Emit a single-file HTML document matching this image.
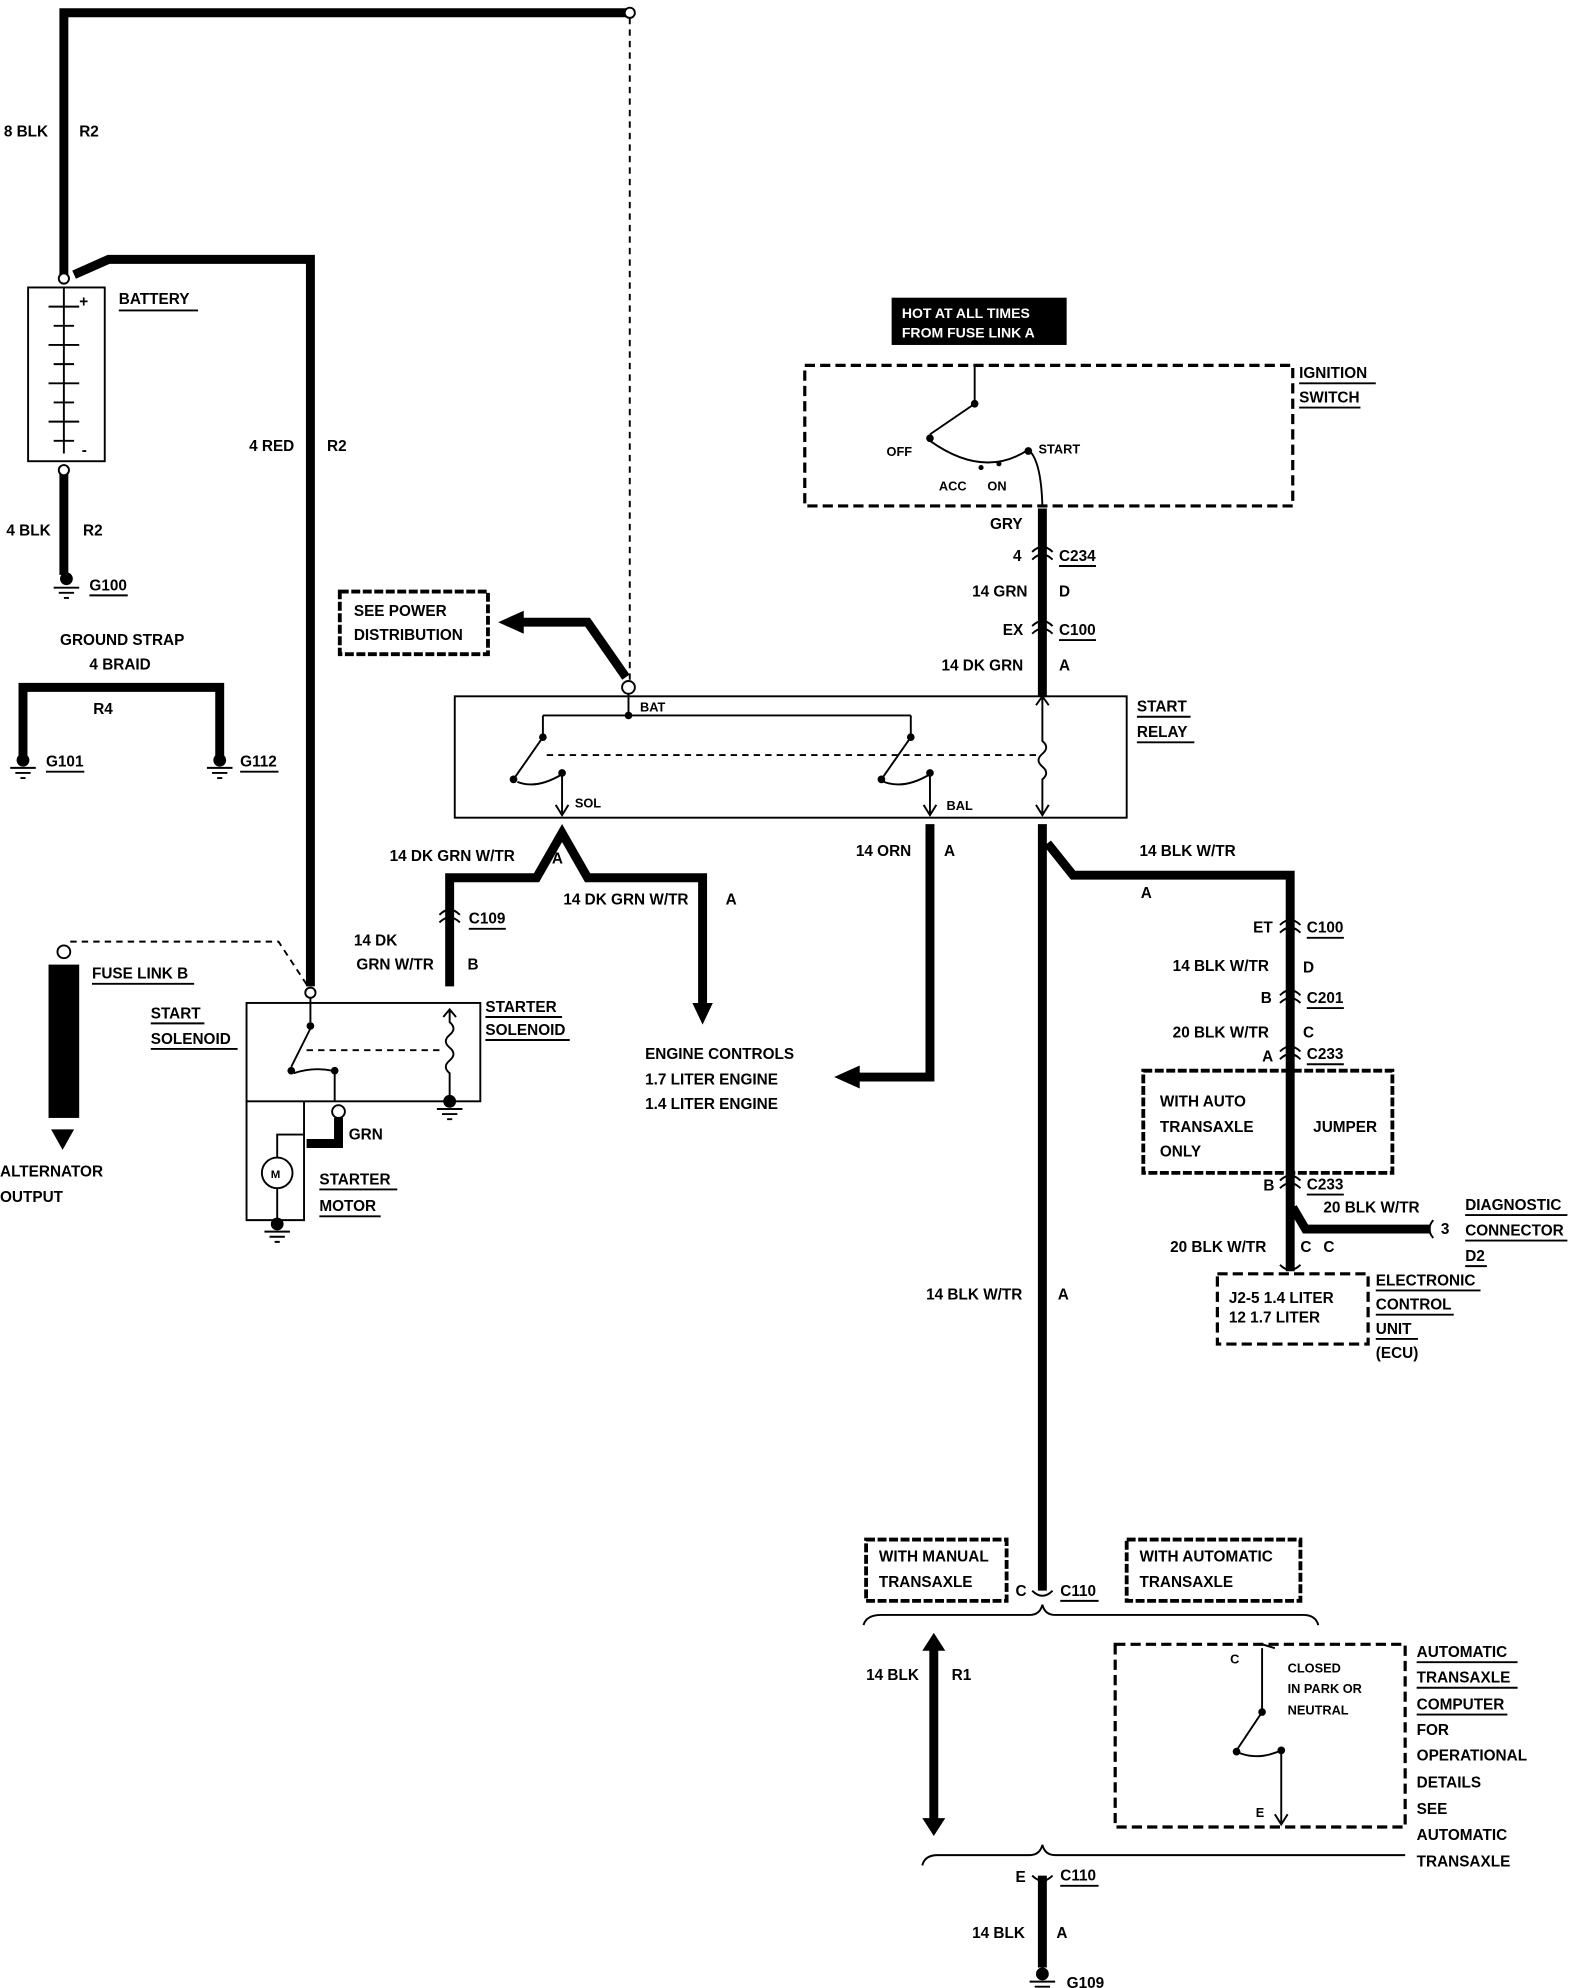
<!DOCTYPE html>
<html><head><meta charset="utf-8"><style>
html,body{margin:0;padding:0;background:#fff}
svg{display:block}
text{font-family:"Liberation Sans",sans-serif;font-weight:bold;font-size:12px;fill:#000}
.w{stroke:#000;stroke-width:7;fill:none}
.t{stroke:#000;stroke-width:1.5;fill:none}
.d{stroke:#000;stroke-width:1.5;fill:none;stroke-dasharray:5 4}
.db{stroke:#000;stroke-width:2.5;fill:none;stroke-dasharray:8 4}
.wv{stroke:#000;stroke-width:3;fill:none;stroke-dasharray:7 2}
.u{stroke:#000;stroke-width:1.5}
</style></head><body>
<svg width="1584" height="1988" viewBox="0 0 1240 1556" preserveAspectRatio="none" xmlns="http://www.w3.org/2000/svg">
<!-- top wire -->
<path class="w" d="M50 215 V10 H490"/>
<circle cx="493" cy="10" r="4" fill="#fff" stroke="#000" stroke-width="1.5"/>
<path class="d" d="M493 14 V534"/>
<text x="3" y="107">8 BLK</text><text x="62" y="107">R2</text>
<!-- battery -->
<circle cx="50" cy="218" r="4" fill="#fff" stroke="#000" stroke-width="1.5"/>
<path class="w" d="M58 215 L85 203 H243 V772"/>
<rect x="22" y="225" width="60" height="136" class="t" stroke-width="2"/>
<path class="t" d="M50 225 V355 M38 240 H62 M42 255 H58 M38 270 H62 M42 285 H58 M38 300 H62 M42 315 H58 M38 330 H62 M42 345 H58"/>
<text x="62" y="240">+</text><text x="64" y="356">-</text>
<text x="93" y="238">BATTERY</text><line class="u" x1="93" y1="243" x2="155" y2="243"/>
<text x="195" y="353">4 RED</text><text x="256" y="353">R2</text>
<path class="w" d="M50 365 V450"/>
<circle cx="50" cy="368" r="4" fill="#fff" stroke="#000" stroke-width="1.5"/>
<text x="5" y="419">4 BLK</text><text x="65" y="419">R2</text>
<circle cx="52" cy="453" r="5"/><path class="t" d="M42 460 H62 M46 464 H58 M50 468 H54"/>
<text x="70" y="462">G100</text><line class="u" x1="70" y1="466" x2="100" y2="466"/>
<!-- ground strap -->
<text x="47" y="505">GROUND STRAP</text><text x="70" y="524">4 BRAID</text>
<path class="w" d="M18 592 V538 H172 V592"/>
<text x="73" y="559">R4</text>
<circle cx="18" cy="595" r="5"/><path class="t" d="M8 601 H28 M12 605 H24 M16 609 H20"/>
<circle cx="172" cy="595" r="5"/><path class="t" d="M162 601 H182 M166 605 H178 M170 609 H174"/>
<text x="36" y="600">G101</text><line class="u" x1="36" y1="604" x2="66" y2="604"/>
<text x="188" y="600">G112</text><line class="u" x1="188" y1="604" x2="218" y2="604"/>
<!-- fuse link B -->
<circle cx="50" cy="745" r="5" fill="#fff" stroke="#000" stroke-width="1.5"/>
<rect x="38" y="755" width="24" height="120" fill="#000"/>
<path d="M40 884 H58 L49 900 Z"/>
<path class="d" d="M55 737 H218 L243 775"/>
<circle cx="243" cy="777" r="4" fill="#fff" stroke="#000" stroke-width="1.5"/>
<text x="72" y="766">FUSE LINK B</text><line class="u" x1="72" y1="770" x2="152" y2="770"/>
<text x="0" y="921">ALTERNATOR</text><text x="0" y="941">OUTPUT</text>
<!-- starter solenoid -->
<rect x="193" y="785" width="183" height="77" class="t" stroke-width="2"/>
<path class="t" d="M243 781 V800 M243 805 L228 835 M230 840 Q245 835 260 838 M262 838 V862"/>
<circle cx="243" cy="803" r="3"/><circle cx="228" cy="838" r="3"/><circle cx="262" cy="838" r="3"/>
<path class="d" d="M240 822 H345"/>
<path class="t" d="M352 790 V800 Q358 805 352 810 Q346 815 352 820 Q358 825 352 830 Q346 835 352 840 V862 M347 796 L352 790 L357 796"/>
<circle cx="352" cy="862" r="5"/><path class="t" d="M342 868 H362 M346 872 H358 M350 876 H354"/>
<text x="118" y="797">START</text><line class="u" x1="118" y1="801" x2="160" y2="801"/>
<text x="118" y="817">SOLENOID</text><line class="u" x1="118" y1="821" x2="186" y2="821"/>
<text x="380" y="792">STARTER</text><line class="u" x1="380" y1="796" x2="440" y2="796"/>
<text x="380" y="810">SOLENOID</text><line class="u" x1="380" y1="814" x2="446" y2="814"/>
<!-- starter motor -->
<path class="t" stroke-width="2" d="M193 862 V955 H238 V862"/>
<circle cx="217" cy="918" r="12" class="t"/><text x="212" y="922" style="font-size:9px">M</text>
<path class="t" d="M217 906 V888 H238 M217 930 V955"/>
<circle cx="217" cy="958" r="5"/><path class="t" d="M207 964 H227 M211 968 H223 M215 972 H219"/>
<circle cx="265" cy="870" r="5" fill="#fff" stroke="#000" stroke-width="1.5"/>
<path class="w" d="M265 875 V895 H240"/>
<text x="273" y="892">GRN</text>
<text x="250" y="927">STARTER</text><line class="u" x1="250" y1="931" x2="311" y2="931"/>
<text x="250" y="948">MOTOR</text><line class="u" x1="250" y1="952" x2="298" y2="952"/>
<!-- see power distribution -->
<rect x="266" y="463" width="116" height="49" class="wv"/>
<text x="277" y="482">SEE POWER</text><text x="277" y="501">DISTRIBUTION</text>
<path class="w" d="M490 530 L460 487 H405"/>
<path d="M390 487 L410 478 L410 496 Z"/>
<!-- start relay -->
<rect x="356" y="545" width="526" height="95" class="t" stroke-width="2"/>
<circle cx="492" cy="538" r="5" fill="#fff" stroke="#000" stroke-width="1.5"/>
<path class="t" d="M492 543 V560 M425 560 H713 M425 560 V577 M425 577 L402 610 M405 612 Q420 618 440 606 M440 606 V638 M435 630 L440 638 L445 630"/>
<circle cx="492" cy="560" r="3"/><circle cx="425" cy="577" r="3"/><circle cx="402" cy="610" r="3"/><circle cx="440" cy="605" r="3"/>
<path class="t" d="M713 560 V577 L690 610 M692 612 Q708 618 728 606 M728 606 V638 M723 630 L728 638 L733 630"/>
<circle cx="713" cy="577" r="3"/><circle cx="690" cy="610" r="3"/><circle cx="728" cy="605" r="3"/>
<path class="d" d="M428 591 H812"/>
<path class="t" d="M816 545 V580 Q822 585 816 590 Q810 595 816 600 Q822 605 816 610 V638 M811 552 L816 545 L821 552 M811 630 L816 638 L821 630"/>
<text x="501" y="557" style="font-size:10px">BAT</text>
<text x="450" y="632" style="font-size:10px">SOL</text>
<text x="741" y="634" style="font-size:10px">BAL</text>
<text x="890" y="557">START</text><line class="u" x1="890" y1="561" x2="932" y2="561"/>
<text x="890" y="577">RELAY</text><line class="u" x1="890" y1="581" x2="935" y2="581"/>
<!-- DK GRN wires -->
<path class="w" d="M352 772 V687 H420 L440 652 L460 687 H550 V788"/>
<path d="M542 785 H558 L550 802 Z"/>
<path class="t" stroke-width="2" d="M344 722 Q352 714 360 722 M344 716 Q352 708 360 716"/>
<text x="305" y="674">14 DK GRN W/TR</text><text x="432" y="676">A</text>
<text x="441" y="708">14 DK GRN W/TR</text><text x="568" y="708">A</text>
<text x="367" y="723">C109</text><line class="u" x1="367" y1="727" x2="396" y2="727"/>
<text x="277" y="740">14 DK</text><text x="279" y="759">GRN W/TR</text><text x="366" y="759">B</text>
<text x="505" y="829">ENGINE CONTROLS</text><text x="505" y="849">1.7 LITER ENGINE</text><text x="505" y="868">1.4 LITER ENGINE</text>
<!-- ORN -->
<path class="w" d="M728 645 V843 H670"/>
<path d="M653 843 L673 834 L673 852 Z"/>
<text x="670" y="670">14 ORN</text><text x="739" y="670">A</text>
<!-- hot / ignition -->
<rect x="698" y="233" width="137" height="37" fill="#000"/>
<text x="706" y="249" style="fill:#fff;font-size:11px">HOT AT ALL TIMES</text>
<text x="706" y="264" style="fill:#fff;font-size:11px">FROM FUSE LINK A</text>
<rect x="630" y="286" width="382" height="110" class="db"/>
<path class="t" d="M763 286 V316 L728 340 M728 345 Q770 375 805 352 M805 352 Q815 360 816 396"/>
<circle cx="763" cy="316" r="3"/><circle cx="728" cy="343" r="3"/><circle cx="805" cy="353" r="3"/><circle cx="768" cy="366" r="2"/><circle cx="782" cy="363" r="2"/>
<text x="694" y="357" style="font-size:10px">OFF</text><text x="813" y="355" style="font-size:10px">START</text>
<text x="735" y="384" style="font-size:10px">ACC</text><text x="773" y="384" style="font-size:10px">ON</text>
<text x="1017" y="296">IGNITION</text><line class="u" x1="1017" y1="300" x2="1077" y2="300"/>
<text x="1017" y="315">SWITCH</text><line class="u" x1="1017" y1="319" x2="1065" y2="319"/>
<path class="w" d="M816 398 V545"/>
<path class="t" stroke-width="2" d="M808 438 Q816 430 824 438 M808 432 Q816 424 824 432 M808 496 Q816 488 824 496 M808 490 Q816 482 824 490"/>
<text x="775" y="414">GRY</text>
<text x="793" y="439">4</text><text x="829" y="439">C234</text><line class="u" x1="829" y1="443" x2="858" y2="443"/>
<text x="761" y="467">14 GRN</text><text x="829" y="467">D</text>
<text x="785" y="497">EX</text><text x="829" y="497">C100</text><line class="u" x1="829" y1="501" x2="858" y2="501"/>
<text x="737" y="525">14 DK GRN</text><text x="829" y="525">A</text>
<!-- main BLK W/TR -->
<path class="w" d="M816 645 V1245"/>
<path class="w" d="M820 660 L840 685 H1010 V995"/>
<text x="892" y="670">14 BLK W/TR</text><text x="893" y="703">A</text>
<path class="t" stroke-width="2" d="M1002 730 Q1010 722 1018 730 M1002 724 Q1010 716 1018 724 M1002 785 Q1010 777 1018 785 M1002 779 Q1010 771 1018 779 M1002 829 Q1010 821 1018 829 M1002 823 Q1010 815 1018 823 M1002 930 Q1010 922 1018 930 M1002 924 Q1010 916 1018 924"/>
<text x="981" y="730">ET</text><text x="1023" y="730">C100</text><line class="u" x1="1023" y1="734" x2="1052" y2="734"/>
<text x="918" y="760">14 BLK W/TR</text><text x="1020" y="761">D</text>
<text x="987" y="785">B</text><text x="1023" y="785">C201</text><line class="u" x1="1023" y1="789" x2="1052" y2="789"/>
<text x="918" y="812">20 BLK W/TR</text><text x="1020" y="812">C</text>
<text x="988" y="831">A</text><text x="1023" y="829">C233</text><line class="u" x1="1023" y1="833" x2="1052" y2="833"/>
<rect x="895" y="838" width="195" height="80" class="wv"/>
<text x="908" y="866">WITH AUTO</text><text x="908" y="886">TRANSAXLE</text><text x="908" y="905">ONLY</text>
<text x="1028" y="886">JUMPER</text>
<text x="989" y="932">B</text><text x="1023" y="931">C233</text><line class="u" x1="1023" y1="935" x2="1052" y2="935"/>
<path class="w" d="M1012 945 L1022 962 H1120"/>
<path class="t" stroke-width="2" d="M1122 955 Q1116 962 1122 969"/>
<text x="1036" y="949">20 BLK W/TR</text><text x="1128" y="966">3</text>
<text x="1147" y="947">DIAGNOSTIC</text><line class="u" x1="1147" y1="951" x2="1227" y2="951"/>
<text x="1147" y="967">CONNECTOR</text><line class="u" x1="1147" y1="971" x2="1227" y2="971"/>
<text x="1147" y="987">D2</text><line class="u" x1="1147" y1="991" x2="1164" y2="991"/>
<text x="916" y="980">20 BLK W/TR</text><text x="1018" y="980">C</text><text x="1036" y="980">C</text>
<path class="t" stroke-width="2" d="M1002 990 Q1010 998 1018 990"/>
<rect x="953" y="997" width="118" height="55" class="db"/>
<text x="962" y="1020">J2-5  1.4 LITER</text><text x="962" y="1035">12    1.7 LITER</text>
<text x="1077" y="1006">ELECTRONIC</text><line class="u" x1="1077" y1="1010" x2="1159" y2="1010"/>
<text x="1077" y="1025">CONTROL</text><line class="u" x1="1077" y1="1029" x2="1138" y2="1029"/>
<text x="1077" y="1044">UNIT</text><line class="u" x1="1077" y1="1048" x2="1110" y2="1048"/>
<text x="1077" y="1063">(ECU)</text>
<text x="725" y="1017">14 BLK W/TR</text><text x="828" y="1017">A</text>
<!-- bottom -->
<rect x="678" y="1205" width="110" height="48" class="wv"/>
<text x="688" y="1222">WITH MANUAL</text><text x="688" y="1242">TRANSAXLE</text>
<rect x="882" y="1205" width="136" height="48" class="wv"/>
<text x="892" y="1222">WITH AUTOMATIC</text><text x="892" y="1242">TRANSAXLE</text>
<text x="795" y="1249">C</text><text x="830" y="1249">C110</text><line class="u" x1="830" y1="1253" x2="860" y2="1253"/>
<path class="t" stroke-width="2" d="M808 1245 Q816 1253 824 1245"/>
<path class="t" stroke-width="3" d="M676 1272 Q678 1264 690 1264 H806 Q814 1264 816 1256 Q818 1264 826 1264 H1020 Q1030 1264 1032 1272"/>
<path class="w" d="M731 1290 V1425"/>
<path d="M722 1292 L731 1278 L740 1292 Z M722 1423 L731 1437 L740 1423 Z"/>
<text x="678" y="1315">14 BLK</text><text x="745" y="1315">R1</text>
<rect x="873" y="1287" width="227" height="143" class="db"/>
<path class="t" d="M988 1290 V1340 L968 1370 M970 1372 Q985 1378 1003 1370 M1003 1370 V1428 M998 1290 L988 1287 M998 1420 L1003 1428 L1008 1420"/>
<circle cx="988" cy="1340" r="3"/><circle cx="968" cy="1371" r="3"/><circle cx="1003" cy="1370" r="3"/>
<text x="963" y="1302" style="font-size:10px">C</text><text x="983" y="1422" style="font-size:10px">E</text>
<text x="1008" y="1309" style="font-size:10px">CLOSED</text><text x="1008" y="1325" style="font-size:10px">IN PARK OR</text><text x="1008" y="1342" style="font-size:10px">NEUTRAL</text>
<text x="1109" y="1297">AUTOMATIC</text><line class="u" x1="1109" y1="1301" x2="1188" y2="1301"/>
<text x="1109" y="1317">TRANSAXLE</text><line class="u" x1="1109" y1="1321" x2="1188" y2="1321"/>
<text x="1109" y="1338">COMPUTER</text><line class="u" x1="1109" y1="1342" x2="1180" y2="1342"/>
<text x="1109" y="1358">FOR</text><text x="1109" y="1378">OPERATIONAL</text><text x="1109" y="1399">DETAILS</text>
<text x="1109" y="1420">SEE</text><text x="1109" y="1440">AUTOMATIC</text><text x="1109" y="1461">TRANSAXLE</text>
<path class="t" stroke-width="3" d="M722 1460 Q724 1452 734 1452 H806 Q814 1452 816 1444 Q818 1452 826 1452 H1100"/>
<path class="w" d="M816 1468 V1540"/>
<path class="t" stroke-width="2" d="M808 1468 Q816 1476 824 1468"/>
<text x="795" y="1473">E</text><text x="830" y="1472">C110</text><line class="u" x1="830" y1="1476" x2="860" y2="1476"/>
<text x="761" y="1517">14 BLK</text><text x="827" y="1517">A</text>
<circle cx="816" cy="1545" r="5"/><path class="t" d="M806 1551 H826 M810 1555 H822"/>
<text x="835" y="1556">G109</text>
</svg>
</body></html>
